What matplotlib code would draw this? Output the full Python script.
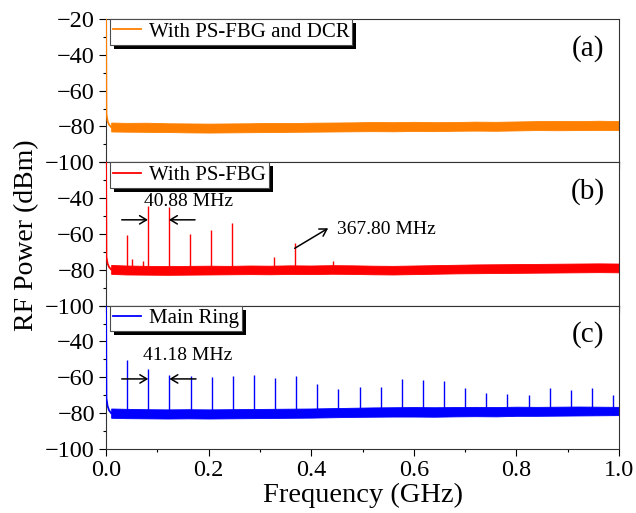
import numpy as np
import matplotlib
matplotlib.use("Agg")
import matplotlib.pyplot as plt
from matplotlib.patches import Rectangle
from matplotlib.ticker import MultipleLocator, FormatStrFormatter
from matplotlib.transforms import IdentityTransform

plt.rcParams["font.family"] = ["Liberation Serif", "DejaVu Serif"]

# noise-floor envelope (GHz, dBm), sampled along the span
floor_freq = [0.01, 0.04, 0.08, 0.12, 0.16, 0.20, 0.24, 0.28, 0.32, 0.36,
              0.40, 0.44, 0.48, 0.52, 0.56, 0.60, 0.64, 0.68, 0.72, 0.76,
              0.80, 0.84, 0.88, 0.92, 0.96, 1.00]

dcr_top = [-77.8, -78.0, -77.9, -78.2, -78.3, -78.4, -78.3, -78.2, -78.0, -78.1,
           -77.9, -77.8, -77.7, -77.5, -77.6, -77.4, -77.6, -77.5, -77.3, -77.4,
           -77.2, -77.0, -76.9, -77.0, -76.8, -77.0]
dcr_bot = [-82.8, -82.9, -83.0, -83.1, -83.3, -83.4, -83.3, -83.2, -83.1, -83.0,
           -82.9, -82.8, -82.7, -82.6, -82.7, -82.5, -82.6, -82.4, -82.3, -82.4,
           -82.2, -82.0, -82.1, -82.0, -81.9, -82.0]

fbg_top = [-77.3, -77.6, -77.8, -77.9, -77.8, -77.7, -77.8, -77.6, -77.7, -77.5,
           -77.6, -77.4, -77.5, -77.7, -77.8, -77.6, -77.4, -77.2, -77.0, -76.9,
           -76.8, -76.7, -76.6, -76.5, -76.4, -76.5]
fbg_bot = [-82.3, -82.6, -82.7, -82.8, -82.7, -82.6, -82.5, -82.4, -82.5, -82.3,
           -82.4, -82.2, -82.3, -82.5, -82.6, -82.4, -82.2, -82.0, -81.9, -81.8,
           -81.7, -81.6, -81.5, -81.4, -81.3, -81.4]

ring_top = [-77.4, -77.6, -77.8, -77.9, -77.8, -77.9, -77.8, -77.7, -77.6, -77.5,
            -77.4, -77.2, -77.0, -76.8, -76.7, -76.6, -76.7, -76.6, -76.5, -76.6,
            -76.4, -76.5, -76.4, -76.3, -76.4, -76.5]
ring_bot = [-82.6, -82.8, -82.9, -83.0, -82.9, -83.0, -82.9, -82.8, -82.7, -82.6,
            -82.5, -82.3, -82.1, -82.0, -81.9, -81.9, -82.0, -81.8, -81.7, -81.8,
            -81.5, -81.5, -81.4, -81.3, -81.2, -81.1]

# low-frequency roll-off near DC
dc_freq = [0.0, 0.0008, 0.003, 0.006, 0.010]
dcr_dc = [-10.0, -73.0, -77.0, -79.0, -80.3]
fbg_dc = [-10.0, -72.8, -76.5, -78.5, -79.8]
ring_dc = [-10.0, -71.7, -76.0, -78.5, -80.0]

# beat-note spurs with PS-FBG (GHz, peak dBm)
fbg_spur_freq = [0.0409, 0.050, 0.072, 0.0818, 0.1226, 0.1635, 0.2044, 0.2453,
                 0.3270, 0.3678, 0.442]
fbg_spur_peak = [-60.5, -74.0, -75.0, -44.6, -45.0, -60.0, -58.0, -53.6,
                 -72.8, -65.0, -75.0]

# main ring longitudinal modes
ring_spur_freq = [0.0412, 0.0824, 0.1235, 0.1647, 0.2059, 0.2471, 0.2883, 0.3294,
                  0.3706, 0.4118, 0.4530, 0.4942, 0.5353, 0.5765, 0.6177, 0.6589,
                  0.7001, 0.7412, 0.7824, 0.8236, 0.8648, 0.9060, 0.9471, 0.9883]
ring_spur_peak = [-50.2, -55.4, -58.9, -59.0, -59.8, -59.4, -58.7, -60.2,
                  -59.0, -63.5, -66.5, -65.4, -65.4, -61.1, -61.3, -62.2,
                  -65.7, -68.7, -69.4, -70.0, -66.1, -66.9, -65.7, -70.0]

panels = [
    ("With PS-FBG and DCR", "#ff8000", dcr_top, dcr_bot, dcr_dc, [], [], "(a)"),
    ("With PS-FBG", "#ff0000", fbg_top, fbg_bot, fbg_dc, fbg_spur_freq, fbg_spur_peak, "(b)"),
    ("Main Ring", "#0000ff", ring_top, ring_bot, ring_dc, ring_spur_freq, ring_spur_peak, "(c)"),
]

fig = plt.figure(figsize=(6.36, 5.13), dpi=100)
gs = fig.add_gridspec(3, 1, left=0.1667, right=0.9733, bottom=0.1248,
                      top=0.963, hspace=0)
axes = [fig.add_subplot(gs[i]) for i in range(3)]

legends = []
for i, (ax, (label, color, top, bot, dc, sf, sp, tag)) in enumerate(zip(axes, panels)):
    ax.fill_between(floor_freq, bot, top, color=color, lw=0.6, zorder=2)
    ax.plot(dc_freq, dc, color=color, lw=1.3, zorder=3, label=label)
    if sf:
        ax.vlines(sf, -81.0, sp, color=color, lw=1.0, zorder=2)

    ax.set_xlim(0, 1.0)
    ax.set_ylim(-100, -20)
    ax.xaxis.set_major_locator(MultipleLocator(0.2))
    ax.xaxis.set_minor_locator(MultipleLocator(0.1))
    ax.xaxis.set_major_formatter(FormatStrFormatter("%.1f"))
    ax.set_yticks([-100, -80, -60, -40, -20])
    if i == 0:
        ax.set_yticklabels(["\u2212100", "\u221280", "\u221260", "\u221240", "\u221220"])
    else:
        ax.set_yticklabels(["\u2212100", "\u221280", "\u221260", "\u221240", ""])
    ax.yaxis.set_minor_locator(MultipleLocator(10))
    ax.tick_params(which="major", direction="out", length=5, width=0.8,
                   labelsize=17.5, pad=3)
    ax.tick_params(which="minor", direction="out", length=2.5, width=0.8)
    ax.tick_params(axis="x", labelbottom=(i == 2))
    for sp_ in ax.spines.values():
        sp_.set_linewidth(0.8)
        sp_.set_color("0.2")

    ax.text(0.9386, 0.796, tag, transform=ax.transAxes, fontsize=21,
            ha="center", va="center")

    leg = ax.legend(loc="upper left", bbox_to_anchor=(0.008, 1.0),
                    borderaxespad=0, fancybox=False, framealpha=1,
                    edgecolor="0.3", fontsize=15, handlelength=1.35,
                    handletextpad=0.35, borderpad=0.15)
    leg.get_frame().set_linewidth(0.8)
    legends.append((ax, leg))

# spur spacing annotations
arrow = dict(arrowstyle="->,head_length=0.5,head_width=0.3", color="black",
             lw=1.1, shrinkA=0, shrinkB=0)
ax_b, ax_c = axes[1], axes[2]
ax_b.annotate("", xy=(0.0818, -52.1), xytext=(0.0306, -52.1), arrowprops=arrow)
ax_b.annotate("", xy=(0.1226, -52.1), xytext=(0.1735, -52.1), arrowprops=arrow)
ax_b.text(0.161, -42.0, "40.88 MHz", fontsize=14, ha="center", va="center")
ax_b.annotate("", xy=(0.433, -56.8), xytext=(0.3678, -68.0), arrowprops=arrow)
ax_b.text(0.4497, -57.7, "367.80 MHz", fontsize=14, ha="left", va="center")

ax_c.annotate("", xy=(0.0824, -60.9), xytext=(0.0306, -60.9), arrowprops=arrow)
ax_c.annotate("", xy=(0.1235, -60.9), xytext=(0.1754, -60.9), arrowprops=arrow)
ax_c.text(0.160, -47.8, "41.18 MHz", fontsize=14, ha="center", va="center")

ax_c.set_xlabel("Frequency (GHz)", fontsize=20.5, labelpad=1)
fig.text(27 / 636, 1 - 235 / 513, "RF Power (dBm)", rotation=90,
         fontsize=20, ha="center", va="center")

# solid drop shadow behind each legend box
fig.canvas.draw()
for ax, leg in legends:
    bb = leg.get_window_extent()
    shadow = Rectangle((bb.x0 + 4, bb.y0 - 4), bb.width, bb.height,
                       transform=IdentityTransform(), facecolor="black",
                       edgecolor="none", zorder=4.9, clip_on=False)
    ax.add_patch(shadow)

fig.savefig("out.png", dpi=100)
